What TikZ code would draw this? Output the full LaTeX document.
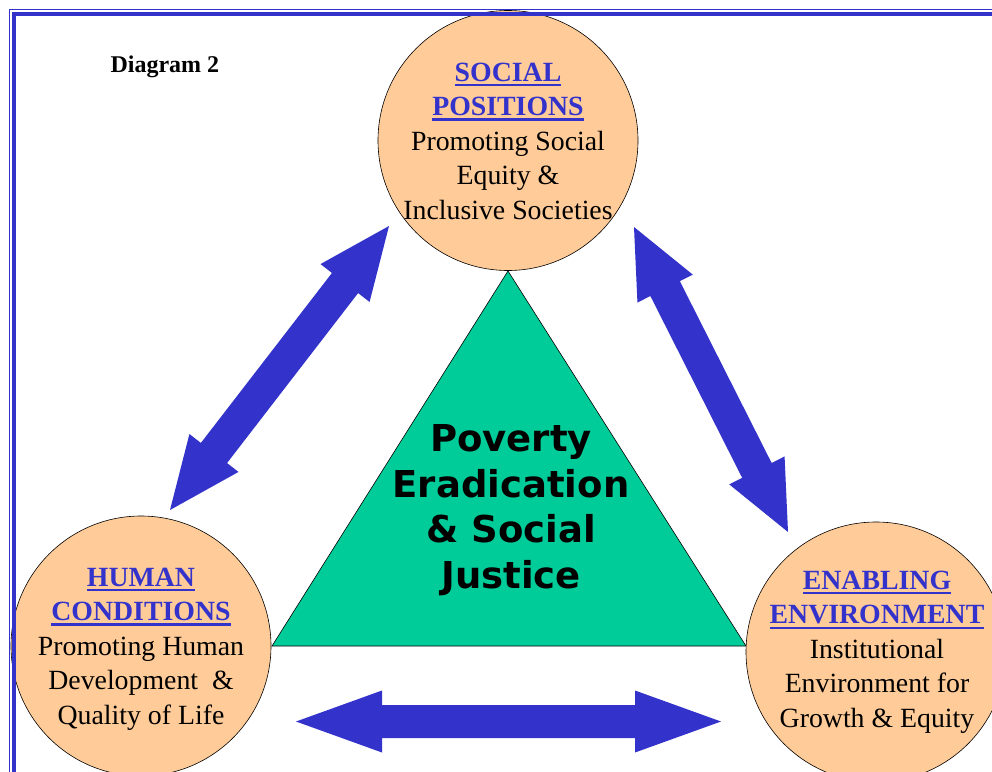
\documentclass[tikz,border=0pt]{standalone}
\usepackage{fontspec}
\usepackage{xcolor}
\usepackage{tikz}
\usetikzlibrary{positioning,calc}
\setmainfont{Liberation Serif}
\newfontfamily\trianglefont{DejaVu Sans}

\definecolor{stageorange}{HTML}{FFCC99}
\definecolor{coregreen}{HTML}{00CC99}
\definecolor{headblue}{HTML}{3333CC}

% underlined blue heading inside a circle
\newcommand{\circlehead}[1]{\textcolor{headblue}{\bfseries\setbox0=\hbox{#1}\rlap{\rule[-5pt]{\wd0}{2.2pt}}\box0}}
% double headed block arrow between two coordinates
\newcommand{\blockarrow}[3]{%
  \fill[headblue] (#1)
    -- ($(#1)!#3!(#2)!31pt!90:(#2)$)
    -- ($(#1)!#3!(#2)!16.5pt!90:(#2)$)
    -- ($(#2)!#3!(#1)!16.5pt!-90:(#1)$)
    -- ($(#2)!#3!(#1)!31pt!-90:(#1)$)
    -- (#2)
    -- ($(#2)!#3!(#1)!31pt!90:(#1)$)
    -- ($(#2)!#3!(#1)!16.5pt!90:(#1)$)
    -- ($(#1)!#3!(#2)!16.5pt!-90:(#2)$)
    -- ($(#1)!#3!(#2)!31pt!-90:(#2)$)
    -- cycle;}

\tikzset{
  stage circle/.style={circle, draw=black, line width=0.6pt, fill=stageorange,
    minimum size=260pt, inner sep=0pt},
  stage text/.style={align=center, inner sep=0pt,
    font=\fontsize{27.8}{34.5}\selectfont},
  core triangle/.style={draw=black, line width=0.6pt, fill=coregreen},
  core text/.style={align=center, inner sep=0pt,
    font=\trianglefont\bfseries\fontsize{37}{45.5}\selectfont},
}

\begin{document}
\begin{tikzpicture}[x=1pt, y=-1pt]
    \useasboundingbox (0,0) rectangle (992,771);
    \clip (0,0) rectangle (992,771);

    % central triangle
    \coordinate (apex) at (508,271);
    \coordinate (baseL) at (272,646);
    \coordinate (baseR) at (746,646);
    \draw [core triangle] (apex) -- (baseL) -- (baseR) -- cycle;
    \node [core text] (core) at (511,510) {Poverty\\Eradication\\\& Social\\Justice};

    % the three circles
    \node [stage circle] (social) at (508,140.5) {};
    \node [stage circle] (human) at (141,646) {};
    \node [stage circle] (enabling) at (876,652) {};
    \node [stage text] (socialtext) at (508,141)
        {\circlehead{SOCIAL}\\\circlehead{POSITIONS}\\Promoting Social\\Equity \&\\Inclusive Societies};
    \node [stage text] (humantext) at (141,649)
        {\circlehead{HUMAN}\\\circlehead{CONDITIONS}\\Promoting Human\\Development \ \&\\Quality of Life};
    \node [stage text] (enablingtext) at (877,652)
        {\circlehead{ENABLING}\\\circlehead{ENVIRONMENT}\\Institutional\\Environment for\\Growth \& Equity};

    \node [anchor=base west, font=\bfseries\fontsize{24}{28}\selectfont] (title) at (107,72) {Diagram 2};

    % block arrows
    \coordinate (sh1) at (389,226);
    \coordinate (sh2) at (170,510);
    \coordinate (se1) at (634,227);
    \coordinate (se2) at (788,532);
    \coordinate (he1) at (296,721.5);
    \coordinate (he2) at (721,721.5);
    \blockarrow{sh1}{sh2}{72pt}
    \blockarrow{se1}{se2}{69pt}
    \blockarrow{he1}{he2}{86pt}

    % frame
    \draw [headblue, line width=1.5pt] (9.7,9.7) rectangle (1100,900);
    \draw [headblue, line width=4pt] (14,14) rectangle (1100,900);
\end{tikzpicture}
\end{document}
